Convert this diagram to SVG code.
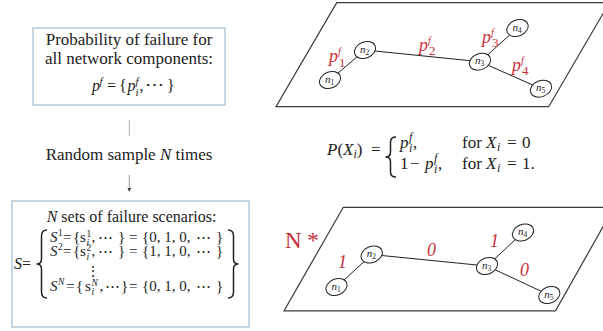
<svg xmlns="http://www.w3.org/2000/svg" width="603" height="331" viewBox="0 0 603 331">
<style>
.box{fill:none;stroke:#a9c1d6;stroke-width:1.3}
.plane{fill:none;stroke:#3a3a3a;stroke-width:1.2}
.edge{stroke:#222;stroke-width:1}
.node ellipse{fill:#fff;stroke:#222;stroke-width:1}
.t{font-family:"Liberation Serif","DejaVu Serif",serif;fill:#222}
.it{font-style:italic}
.red{fill:#c8303a}
.nl{font-size:11px}
.nl .s{font-size:7.5px}
.brace{fill:none;stroke:#222;stroke-width:1.5}
</style>
<defs>
<marker id="ah" viewBox="0 0 6 6" refX="5" refY="3" markerWidth="4" markerHeight="4" orient="auto">
<path d="M0,0 L6,3 L0,6 z" fill="#333"/>
</marker>
</defs>

<!-- left flow -->
<g id="box-prob">
<rect class="box" x="33" y="28" width="192" height="77"/>
<text class="t" font-size="17" x="129" y="45" text-anchor="middle">Probability of failure for</text>
<text class="t" font-size="17" x="129" y="64" text-anchor="middle">all network components:</text>
<text class="t" font-size="16" y="91"><tspan x="92" class="it">p</tspan><tspan x="99.5" y="84.5" font-size="11" class="it">f</tspan><tspan x="107" y="91">=</tspan><tspan x="119">{</tspan><tspan x="127.5" class="it">p</tspan><tspan x="135.5" y="84.5" font-size="11" class="it">f</tspan><tspan x="135.5" y="95.5" font-size="11" class="it">i</tspan><tspan x="139.5" y="91">,</tspan><tspan x="145" font-size="19">⋯</tspan><tspan x="167">}</tspan></text>
</g>

<g id="connectors-left">
<line x1="129.3" y1="120" x2="129.3" y2="136" stroke="#b5b5b5" stroke-width="1"/>
<line x1="129.3" y1="175" x2="129.3" y2="191" stroke="#9a9a9a" stroke-width="1" marker-end="url(#ah)"/>
</g>
<g id="label-sample">
<text class="t" font-size="17" x="129" y="160" text-anchor="middle">Random sample <tspan class="it">N</tspan> times</text>
</g>

<g id="box-scen">
<rect class="box" x="12" y="201" width="237" height="126"/>
<text class="t" font-size="16" x="131.5" y="222" text-anchor="middle"><tspan class="it">N</tspan> sets of failure scenarios:</text>
<text class="t it" font-size="16" x="14" y="269">S<tspan font-style="normal">=</tspan></text>
<path class="brace" d="M47,230 Q41.5,230 41.5,236 L41.5,259 Q41.5,264 36.5,264 Q41.5,264 41.5,269 L41.5,292 Q41.5,298 47,298"/>
<path class="brace" d="M228,230 Q233.5,230 233.5,236 L233.5,259 Q233.5,264 238.5,264 Q233.5,264 233.5,269 L233.5,292 Q233.5,298 228,298"/>
<text class="t" font-size="15" y="242"><tspan x="50" class="it">S</tspan><tspan x="58" y="236" font-size="9.5">1</tspan><tspan x="63" y="242">=</tspan><tspan x="73">{</tspan><tspan x="80">s</tspan><tspan x="86.5" y="236.5" font-size="9.5">1</tspan><tspan x="86.5" y="246" font-size="9.5" class="it">i</tspan><tspan x="91.5" y="242">,</tspan><tspan x="98">⋯</tspan><tspan x="118">}</tspan><tspan x="129">=</tspan><tspan x="142">{0, 1, 0,</tspan><tspan x="196">⋯</tspan><tspan x="216">}</tspan></text>
<text class="t" font-size="15" y="256"><tspan x="50" class="it">S</tspan><tspan x="58" y="250" font-size="9.5">2</tspan><tspan x="63" y="256">=</tspan><tspan x="73">{</tspan><tspan x="80">s</tspan><tspan x="86.5" y="250.5" font-size="9.5">2</tspan><tspan x="86.5" y="260" font-size="9.5" class="it">i</tspan><tspan x="91.5" y="256">,</tspan><tspan x="98">⋯</tspan><tspan x="118">}</tspan><tspan x="129">=</tspan><tspan x="142">{1, 1, 0,</tspan><tspan x="196">⋯</tspan><tspan x="216">}</tspan></text>
<text class="t" font-size="14" x="85.5" y="276">⋮</text>
<text class="t" font-size="15" y="291"><tspan x="50" class="it">S</tspan><tspan x="58" y="285" font-size="9.5" class="it">N</tspan><tspan x="66" y="291">=</tspan><tspan x="76">{</tspan><tspan x="85">s</tspan><tspan x="91.5" y="285.5" font-size="9.5" class="it">N</tspan><tspan x="91.5" y="295" font-size="9.5" class="it">i</tspan><tspan x="99.5" y="291">,</tspan><tspan x="105">⋯</tspan><tspan x="121">}</tspan><tspan x="129">=</tspan><tspan x="142">{0, 1, 0,</tspan><tspan x="196">⋯</tspan><tspan x="216">}</tspan></text>
</g>

<!-- formula -->
<g id="formula">
<text class="t" font-size="17" y="155"><tspan x="327" class="it">P</tspan><tspan>(</tspan><tspan class="it">X</tspan><tspan class="it" font-size="12" dy="3">i</tspan><tspan dy="-3">)</tspan><tspan x="371">=</tspan></text>
<path class="brace" d="M396,137 Q390.5,137 390.5,142 L390.5,152 Q390.5,157 385.5,157 Q390.5,157 390.5,162 L390.5,172 Q390.5,177 396,177"/>
<text class="t" font-size="17" y="148"><tspan x="400" class="it">p</tspan><tspan x="409" y="141" font-size="12" class="it">f</tspan><tspan x="409" y="152" font-size="12" class="it">i</tspan><tspan x="413" y="148">,</tspan><tspan x="462">for</tspan><tspan x="486" class="it">X</tspan><tspan x="497" y="151" font-size="12" class="it">i</tspan><tspan x="507" y="148">=</tspan><tspan x="522">0</tspan></text>
<text class="t" font-size="17" y="169"><tspan x="400">1</tspan><tspan x="410">−</tspan><tspan x="425" class="it">p</tspan><tspan x="434" y="162" font-size="12" class="it">f</tspan><tspan x="434" y="173" font-size="12" class="it">i</tspan><tspan x="438" y="169">,</tspan><tspan x="462">for</tspan><tspan x="486" class="it">X</tspan><tspan x="497" y="172" font-size="12" class="it">i</tspan><tspan x="507" y="169">=</tspan><tspan x="522">1.</tspan></text>
</g>

<!-- top network -->
<g id="plane-top"><polygon class="plane" points="336.7,2.7 609.4,2.7 548.7,106.7 276,106.7"/></g>
<g id="edges-top">
<line class="edge" x1="330" y1="80" x2="365" y2="50"/>
<line class="edge" x1="365" y1="50" x2="480" y2="61.7"/>
<line class="edge" x1="480" y1="61.7" x2="517.5" y2="28"/>
<line class="edge" x1="480" y1="61.7" x2="541" y2="88.7"/>
</g>
<g id="top-n1" class="node" transform="translate(330,80)"><ellipse rx="11" ry="8" transform="rotate(-22)"/><text class="t nl" x="-5" y="2.5"><tspan class="it">n</tspan><tspan class="s" dy="2">1</tspan></text></g>
<g id="top-n2" class="node" transform="translate(365,50)"><ellipse rx="11" ry="8" transform="rotate(-22)"/><text class="t nl" x="-5" y="2.5"><tspan class="it">n</tspan><tspan class="s" dy="2">2</tspan></text></g>
<g id="top-n3" class="node" transform="translate(480,61.7)"><ellipse rx="11" ry="8" transform="rotate(-22)"/><text class="t nl" x="-5" y="2.5"><tspan class="it">n</tspan><tspan class="s" dy="2">3</tspan></text></g>
<g id="top-n4" class="node" transform="translate(517.5,28)"><ellipse rx="11" ry="8" transform="rotate(-22)"/><text class="t nl" x="-5" y="2.5"><tspan class="it">n</tspan><tspan class="s" dy="2">4</tspan></text></g>
<g id="top-n5" class="node" transform="translate(541,88.7)"><ellipse rx="11" ry="8" transform="rotate(-22)"/><text class="t nl" x="-5" y="2.5"><tspan class="it">n</tspan><tspan class="s" dy="2">5</tspan></text></g>
<g id="labels-top" class="t red">
<text font-size="18" y="62"><tspan x="329" class="it">p</tspan><tspan x="338" y="55" font-size="10" class="it">f</tspan><tspan x="339" y="67" font-size="13">1</tspan></text>
<text font-size="18" y="51"><tspan x="419" class="it">p</tspan><tspan x="428" y="44" font-size="10" class="it">f</tspan><tspan x="429" y="55" font-size="13">2</tspan></text>
<text font-size="18" y="43"><tspan x="482" class="it">p</tspan><tspan x="491" y="36" font-size="10" class="it">f</tspan><tspan x="492" y="47" font-size="13">3</tspan></text>
<text font-size="18" y="71"><tspan x="512" class="it">p</tspan><tspan x="521" y="64" font-size="10" class="it">f</tspan><tspan x="522" y="75" font-size="13">4</tspan></text>
</g>

<!-- bottom network -->
<g id="plane-bottom"><polygon class="plane" points="343.3,207.3 614,207.3 555.5,310.9 284,310.9"/></g>
<g id="edges-bottom">
<line class="edge" x1="336.5" y1="287" x2="371.7" y2="254.5"/>
<line class="edge" x1="371.7" y1="254.5" x2="487" y2="266"/>
<line class="edge" x1="487" y1="266" x2="523" y2="232.5"/>
<line class="edge" x1="487" y1="266" x2="549.3" y2="295"/>
</g>
<g id="bot-n1" class="node" transform="translate(336.5,287)"><ellipse rx="11" ry="8" transform="rotate(-22)"/><text class="t nl" x="-5" y="2.5"><tspan class="it">n</tspan><tspan class="s" dy="2">1</tspan></text></g>
<g id="bot-n2" class="node" transform="translate(371.7,254.5)"><ellipse rx="11" ry="8" transform="rotate(-22)"/><text class="t nl" x="-5" y="2.5"><tspan class="it">n</tspan><tspan class="s" dy="2">2</tspan></text></g>
<g id="bot-n3" class="node" transform="translate(487,266)"><ellipse rx="11" ry="8" transform="rotate(-22)"/><text class="t nl" x="-5" y="2.5"><tspan class="it">n</tspan><tspan class="s" dy="2">3</tspan></text></g>
<g id="bot-n4" class="node" transform="translate(523,232.5)"><ellipse rx="11" ry="8" transform="rotate(-22)"/><text class="t nl" x="-5" y="2.5"><tspan class="it">n</tspan><tspan class="s" dy="2">4</tspan></text></g>
<g id="bot-n5" class="node" transform="translate(549.3,295)"><ellipse rx="11" ry="8" transform="rotate(-22)"/><text class="t nl" x="-5" y="2.5"><tspan class="it">n</tspan><tspan class="s" dy="2">5</tspan></text></g>
<g id="labels-bottom" class="t red">
<text class="it" font-size="18" x="338" y="268">1</text>
<text class="it" font-size="18" x="427" y="256">0</text>
<text class="it" font-size="18" x="490" y="246.5">1</text>
<text class="it" font-size="18" x="520" y="276">0</text>
<text font-size="23" x="285" y="247.5">N *</text>
</g>
</svg>
